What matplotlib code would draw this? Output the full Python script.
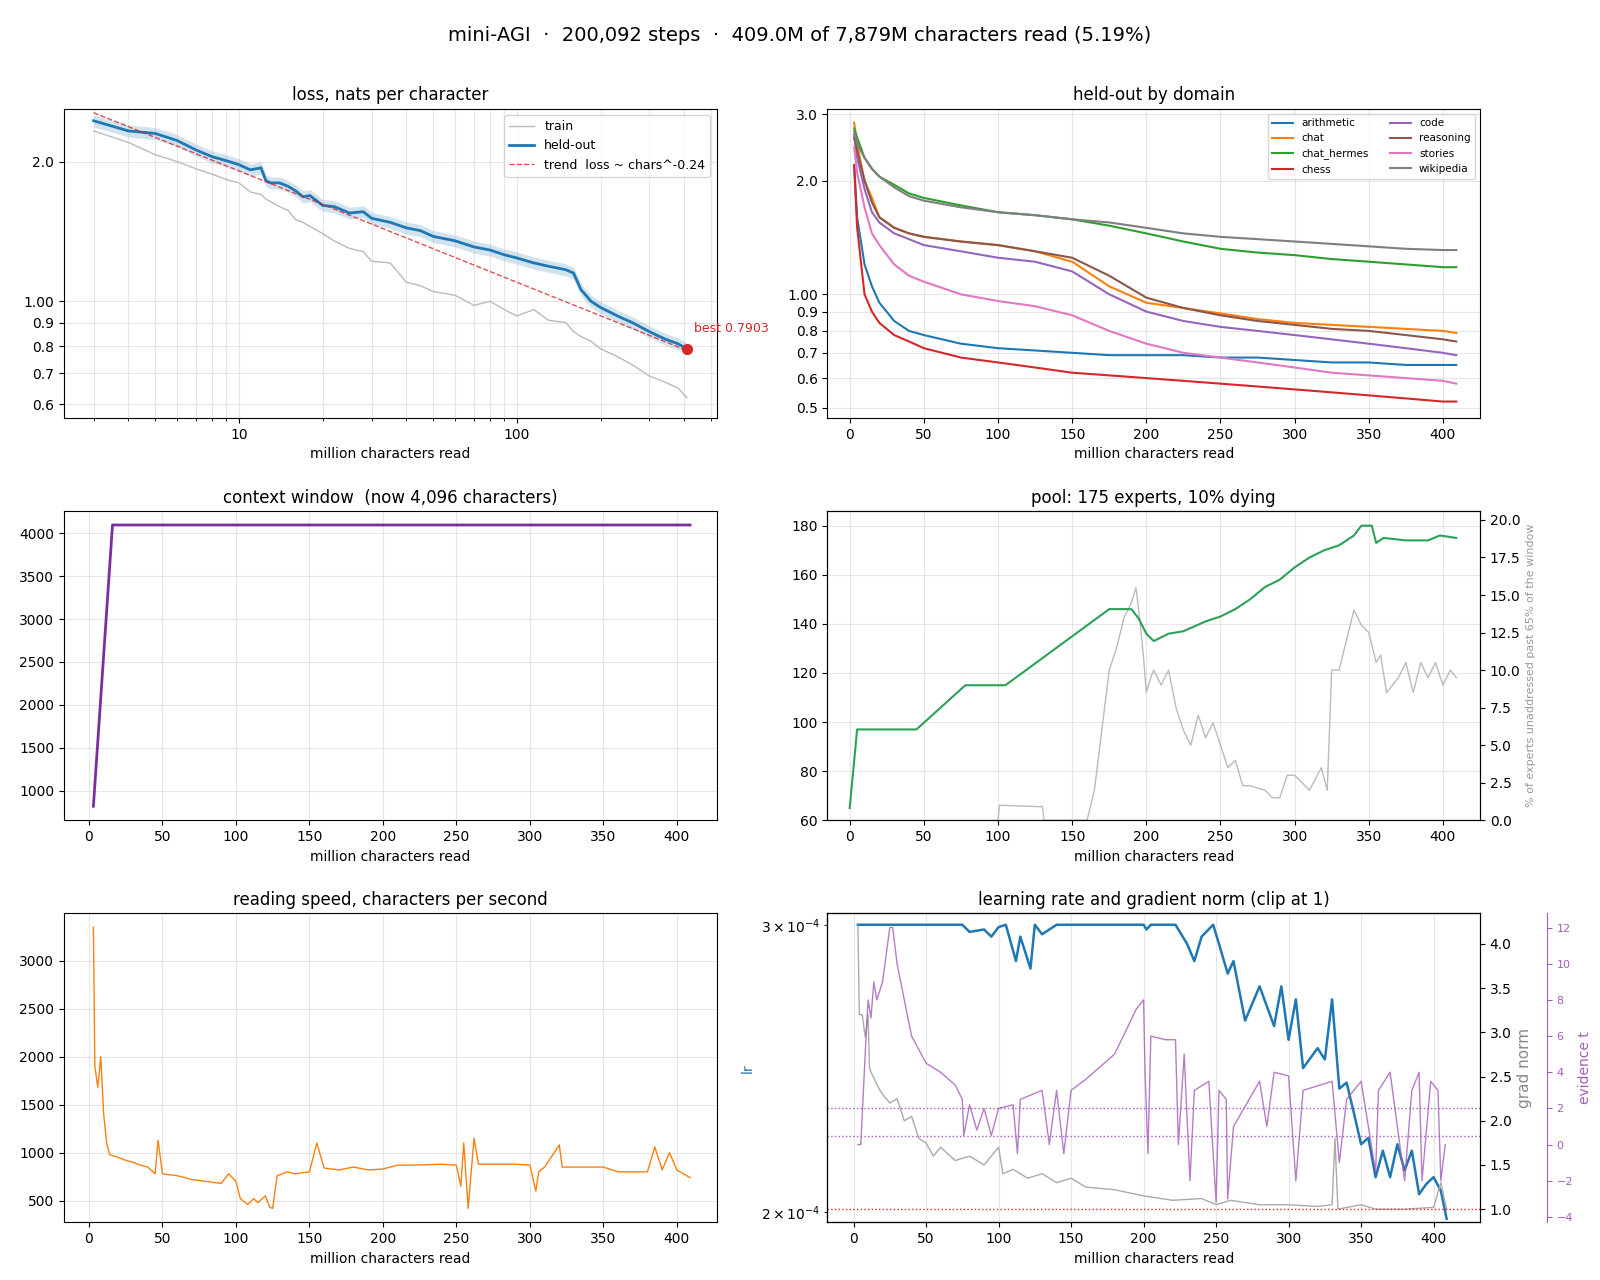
import numpy as np
import matplotlib.pyplot as plt
from matplotlib.ticker import FixedLocator, NullFormatter, FuncFormatter

# ---- loss curve (log-log) ----
loss_x = [3, 4, 5, 6, 7, 8, 9, 10, 11, 12, 12.5, 13, 14, 15, 16, 17, 18, 20, 22, 25, 28, 30, 35, 40,
          45, 50, 60, 70, 80, 90, 100, 115, 130, 150, 160, 170, 185, 200, 230, 260, 300, 340, 380, 409]
heldout = [2.45, 2.33, 2.30, 2.22, 2.12, 2.05, 2.01, 1.97, 1.92, 1.94, 1.82, 1.80, 1.80, 1.77, 1.73, 1.68, 1.69,
           1.61, 1.60, 1.55, 1.56, 1.51, 1.48, 1.44, 1.42, 1.38, 1.35, 1.31, 1.29, 1.26, 1.24, 1.21, 1.19,
           1.17, 1.15, 1.06, 1.00, 0.97, 0.93, 0.90, 0.86, 0.83, 0.81, 0.79]
train = [2.33, 2.20, 2.07, 2.00, 1.93, 1.88, 1.83, 1.80, 1.72, 1.70, 1.66, 1.64, 1.60, 1.57, 1.50, 1.48, 1.45,
         1.40, 1.35, 1.30, 1.28, 1.22, 1.21, 1.10, 1.08, 1.05, 1.03, 0.98, 1.00, 0.96, 0.93, 0.96, 0.91,
         0.90, 0.86, 0.84, 0.82, 0.79, 0.76, 0.73, 0.69, 0.67, 0.65, 0.62]
trend_exp = -0.24
trend_start = 2.55
best_loss = 0.7903

# ---- held-out by domain ----
dom_x = [3, 5, 10, 15, 20, 30, 40, 50, 75, 100, 125, 150, 175, 200, 225, 250, 275, 300, 325, 350, 375, 400, 409]
domains = {
    "arithmetic": [2.2, 1.6, 1.2, 1.05, 0.95, 0.85, 0.80, 0.78, 0.74, 0.72, 0.71, 0.70, 0.69, 0.69, 0.69, 0.68, 0.68, 0.67, 0.66, 0.66, 0.65, 0.65, 0.65],
    "chat": [2.85, 2.5, 2.0, 1.8, 1.6, 1.5, 1.45, 1.42, 1.38, 1.35, 1.30, 1.22, 1.05, 0.95, 0.92, 0.89, 0.86, 0.84, 0.83, 0.82, 0.81, 0.80, 0.79],
    "chat_hermes": [2.75, 2.6, 2.3, 2.15, 2.05, 1.95, 1.85, 1.80, 1.72, 1.65, 1.62, 1.58, 1.52, 1.45, 1.38, 1.32, 1.29, 1.27, 1.24, 1.22, 1.20, 1.18, 1.18],
    "chess": [2.2, 1.5, 1.0, 0.90, 0.84, 0.78, 0.75, 0.72, 0.68, 0.66, 0.64, 0.62, 0.61, 0.60, 0.59, 0.58, 0.57, 0.56, 0.55, 0.54, 0.53, 0.52, 0.52],
    "code": [2.65, 2.3, 1.9, 1.65, 1.55, 1.45, 1.40, 1.35, 1.30, 1.25, 1.22, 1.15, 1.00, 0.90, 0.85, 0.82, 0.80, 0.78, 0.76, 0.74, 0.72, 0.70, 0.69],
    "reasoning": [2.6, 2.4, 2.0, 1.75, 1.6, 1.5, 1.45, 1.42, 1.38, 1.35, 1.30, 1.25, 1.12, 0.98, 0.92, 0.88, 0.85, 0.83, 0.81, 0.80, 0.78, 0.76, 0.75],
    "stories": [2.45, 2.1, 1.7, 1.45, 1.35, 1.20, 1.12, 1.08, 1.00, 0.96, 0.93, 0.88, 0.80, 0.74, 0.70, 0.68, 0.66, 0.64, 0.62, 0.61, 0.60, 0.59, 0.58],
    "wikipedia": [2.7, 2.5, 2.3, 2.15, 2.05, 1.92, 1.82, 1.77, 1.70, 1.65, 1.62, 1.58, 1.55, 1.50, 1.45, 1.42, 1.40, 1.38, 1.36, 1.34, 1.32, 1.31, 1.31],
}
dom_colors = {"arithmetic": "tab:blue", "chat": "tab:orange", "chat_hermes": "tab:green", "chess": "tab:red",
              "code": "tab:purple", "reasoning": "tab:brown", "stories": "tab:pink", "wikipedia": "tab:gray"}

# ---- context window ----
ctx_x = [3, 16, 409]
ctx_len = [820, 4096, 4096]

# ---- expert pool ----
pool_x = [0, 5, 45, 78, 105, 175, 190, 195, 200, 205, 215, 225, 240, 250, 260, 270, 280, 290, 300, 310, 320,
          330, 340, 345, 352, 355, 360, 375, 390, 398, 409]
pool_n = [65, 97, 97, 115, 115, 146, 146, 142, 136, 133, 136, 137, 141, 143, 146, 150, 155, 158, 163, 167, 170,
          172, 176, 180, 180, 173, 175, 174, 174, 176, 175]
stale_x = [100, 101, 130, 131, 160, 165, 170, 175, 180, 185, 190, 193, 196, 198, 200, 203, 205, 210, 215, 220,
           225, 230, 235, 240, 245, 250, 255, 260, 265, 270, 280, 285, 290, 295, 300, 310, 318, 322, 325, 330,
           340, 345, 350, 355, 358, 362, 370, 375, 380, 385, 390, 395, 400, 405, 409]
stale_pct = [0, 1.0, 0.9, 0, 0, 2.0, 6.0, 10.0, 11.5, 13.5, 14.5, 15.5, 13.0, 11.0, 8.5, 9.5, 10.0, 9.0, 10.0, 7.5,
             6.0, 5.0, 7.0, 5.5, 6.5, 5.0, 3.5, 4.0, 2.3, 2.3, 2.0, 1.5, 1.5, 3.0, 3.0, 2.0, 3.5, 2.0, 10.0,
             10.0, 14.0, 13.0, 12.5, 10.5, 11.0, 8.5, 9.5, 10.5, 8.5, 10.5, 9.5, 10.5, 9.0, 10.0, 9.5]

# ---- reading speed ----
speed_x = [3, 4, 6, 8, 10, 12, 14, 20, 25, 30, 35, 40, 45, 47, 50, 60, 70, 80, 90, 95, 100, 103, 108, 112,
           115, 120, 123, 125, 128, 135, 140, 150, 155, 160, 170, 180, 190, 200, 210, 220, 240, 250, 253,
           255, 258, 262, 265, 270, 290, 300, 304, 306, 310, 320, 322, 330, 350, 360, 380, 385, 390, 395, 400, 409]
speed = [3350, 1900, 1680, 2000, 1400, 1100, 980, 950, 920, 900, 870, 850, 780, 1130, 780, 760, 720, 700, 680,
         780, 700, 520, 460, 520, 480, 550, 430, 420, 760, 800, 780, 800, 1100, 840, 820, 850, 820, 830, 870,
         870, 880, 870, 650, 1100, 420, 1150, 880, 880, 880, 870, 600, 800, 850, 1080, 850, 850, 850, 800,
         800, 1060, 820, 1000, 820, 740]

# ---- learning rate / grad norm / evidence ----
lr_x = [3, 75, 80, 90, 95, 100, 105, 112, 115, 122, 125, 130, 140, 150, 200, 202, 205, 222, 230, 235, 240, 248,
        252, 258, 262, 270, 280, 290, 295, 300, 305, 310, 320, 325, 330, 335, 340, 345, 350, 355, 360, 365,
        370, 375, 380, 385, 390, 395, 400, 405, 409]
lr = [3.0, 3.0, 2.97, 2.98, 2.95, 2.99, 3.0, 2.85, 2.95, 2.82, 3.0, 2.96, 3.0, 3.0, 3.0, 2.98, 3.0, 3.0, 2.92,
      2.85, 2.95, 3.0, 2.92, 2.80, 2.85, 2.62, 2.75, 2.60, 2.75, 2.55, 2.70, 2.45, 2.52, 2.48, 2.70, 2.38,
      2.40, 2.30, 2.20, 2.22, 2.10, 2.18, 2.10, 2.20, 2.12, 2.18, 2.05, 2.08, 2.10, 2.06, 1.98]
gn_x = [3, 4, 6, 8, 10, 11, 12, 15, 18, 20, 25, 30, 35, 40, 45, 50, 55, 60, 70, 80, 90, 100, 103, 110, 120,
        130, 140, 150, 160, 180, 200, 220, 240, 250, 260, 280, 300, 320, 330, 332, 334, 350, 360, 380, 400, 405, 409]
gnorm = [4.2, 3.2, 3.2, 2.95, 3.2, 2.6, 2.55, 2.45, 2.35, 2.3, 2.2, 2.25, 2.0, 2.05, 1.8, 1.75, 1.6, 1.7, 1.55,
         1.6, 1.5, 1.7, 1.4, 1.45, 1.35, 1.4, 1.3, 1.35, 1.25, 1.22, 1.15, 1.1, 1.12, 1.05, 1.1, 1.05, 1.05,
         1.03, 1.05, 1.8, 1.0, 1.05, 1.0, 1.0, 1.02, 1.3, 1.0]
ev_x = [3, 5, 8, 10, 12, 14, 16, 20, 25, 27, 30, 40, 50, 60, 70, 75, 76, 80, 85, 90, 95, 100, 110, 113, 115,
        130, 135, 140, 145, 150, 160, 180, 195, 200, 201, 203, 205, 215, 222, 224, 228, 232, 235, 245, 250,
        252, 257, 258, 262, 280, 285, 290, 300, 305, 310, 330, 335, 340, 350, 360, 362, 370, 380, 385, 390,
        392, 398, 403, 405, 408]
evidence = [0, 0, 5, 8, 7, 9, 8, 9, 12, 12, 10, 6, 4.5, 4, 3.3, 2.5, 0.5, 2.2, 0.8, 2.0, 0.5, 2.0, 2.2, -0.5, 2.5,
            3, 0, 3, -0.5, 3, 3.6, 5, 7.5, 8, 4, -0.5, 6, 5.8, 5.8, 0, 5, -2, 3, 3.5, -3.2, 3, 2.5, -3, 1,
            3.5, 1, 4, 3.8, -2, 3, 3.5, -1, 2.5, 3.5, -1.5, 3, 4, -2, 3, 4, -2, 3.5, 3, -2, 0]
ev_lines = [2.0, 0.5]

purple = "#a45cb8"
fig, axes = plt.subplots(3, 2, figsize=(16, 12.8), dpi=100)
fig.subplots_adjust(left=0.04, right=0.925, top=0.915, bottom=0.045, hspace=0.3, wspace=0.17)
fig.suptitle("mini-AGI  ·  200,092 steps  ·  409.0M of 7,879M characters read (5.19%)", fontsize=14)


def fmt_loss(v, p):
    return "1.00" if abs(v - 1) < 1e-9 else f"{v:.1f}"


# loss
ax = axes[0, 0]
lx = np.array(loss_x)
ho = np.array(heldout)
ax.plot(lx, train, color="#bbbbbb", lw=1, label="train")
ax.fill_between(lx, ho * 0.97, ho * 1.03, color="tab:blue", alpha=0.2, lw=0)
ax.plot(lx, ho, color="tab:blue", lw=2, label="held-out")
ax.plot(lx, trend_start * (lx / lx[0]) ** trend_exp, "--", color="tab:red", lw=1, alpha=0.8,
        label=f"trend  loss ~ chars^{trend_exp}")
ax.plot([409], [best_loss], "o", color="tab:red", ms=7)
ax.annotate(f"best {best_loss}", (409, best_loss), xytext=(5, 12), textcoords="offset points",
            color="tab:red", fontsize=9)
ax.set_xscale("log")
ax.set_yscale("log")
ax.xaxis.set_major_formatter(FuncFormatter(lambda v, p: f"{v:g}"))
ax.yaxis.set_major_locator(FixedLocator([0.6, 0.7, 0.8, 0.9, 1.0, 2.0]))
ax.yaxis.set_major_formatter(FuncFormatter(fmt_loss))
ax.yaxis.set_minor_formatter(NullFormatter())
ax.set_ylim(0.56, 2.6)
ax.grid(True, which="both", alpha=0.3)
ax.legend(fontsize=9)
ax.set_title("loss, nats per character")
ax.set_xlabel("million characters read")

# domains
ax = axes[0, 1]
for name, vals in domains.items():
    ax.plot(dom_x, vals, color=dom_colors[name], lw=1.5, label=name)
ax.set_yscale("log")
ax.yaxis.set_major_locator(FixedLocator([0.5, 0.6, 0.7, 0.8, 0.9, 1.0, 2.0, 3.0]))
ax.yaxis.set_major_formatter(FuncFormatter(fmt_loss))
ax.yaxis.set_minor_formatter(NullFormatter())
ax.set_ylim(0.47, 3.1)
ax.set_xlim(-15, 425)
ax.grid(True, alpha=0.3)
ax.legend(fontsize=7.5, ncol=2)
ax.set_title("held-out by domain")
ax.set_xlabel("million characters read")

# context
ax = axes[1, 0]
ax.plot(ctx_x, ctx_len, color="#7b2f9e", lw=2)
ax.set_xlim(-17, 427)
ax.grid(True, alpha=0.3)
ax.set_title("context window  (now 4,096 characters)")
ax.set_xlabel("million characters read")

# pool
ax = axes[1, 1]
ax2 = ax.twinx()
ax2.plot(stale_x, stale_pct, color="#bbbbbb", lw=1)
ax2.set_ylim(0, 20.6)
ax2.set_ylabel("% of experts unaddressed past 65% of the window", color="#999999", fontsize=8)
ax.plot(pool_x, pool_n, color="#2ca05a", lw=1.5)
ax.set_zorder(ax2.get_zorder() + 1)
ax.patch.set_visible(False)
ax.set_ylim(60, 186)
ax.set_xlim(-15, 425)
ax.grid(True, alpha=0.3)
ax.set_title("pool: 175 experts, 10% dying")
ax.set_xlabel("million characters read")

# speed
ax = axes[2, 0]
ax.plot(speed_x, speed, color="tab:orange", lw=1)
ax.set_xlim(-17, 427)
ax.grid(True, alpha=0.3)
ax.set_title("reading speed, characters per second")
ax.set_xlabel("million characters read")

# lr
ax = axes[2, 1]
ax.plot(lr_x, np.array(lr) * 1e-4, color="tab:blue", lw=1.8)
ax.set_yscale("log")
ax.set_ylim(1.97e-4, 3.05e-4)
ax.set_ylabel("lr", color="tab:blue")
ax.set_xlim(-18, 432)
ax.grid(True, axis="x", alpha=0.3)
ax.set_title("learning rate and gradient norm (clip at 1)")
ax.set_xlabel("million characters read")
axg = ax.twinx()
axg.plot(gn_x, gnorm, color="#aaaaaa", lw=1)
axg.axhline(1.0, color="tab:red", ls=":", lw=1)
axg.set_ylim(0.85, 4.35)
axg.set_ylabel("grad norm", color="#888888", fontsize=11)
axe = ax.twinx()
axe.spines["right"].set_position(("outward", 48))
axe.plot(ev_x, evidence, color=purple, lw=1, alpha=0.8)
for t in ev_lines:
    axe.axhline(t, color=purple, ls=":", lw=1)
axe.set_ylim(-4.3, 12.8)
axe.set_ylabel("evidence t", color=purple)
axe.tick_params(axis="y", colors=purple, labelsize=8)
axe.spines["right"].set_color(purple)

fig.savefig("out.png")
